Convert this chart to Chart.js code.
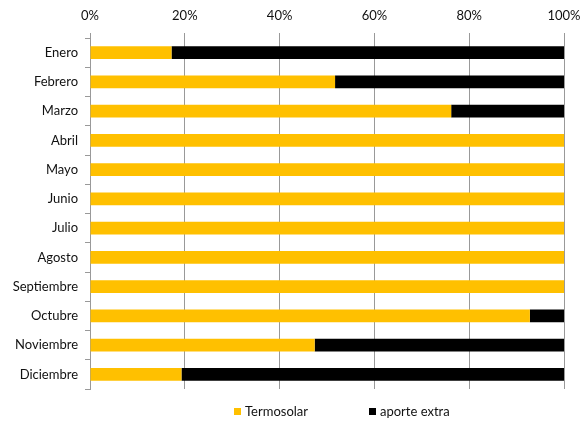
<!DOCTYPE html>
<html>
<head>
<meta charset="utf-8">
<script src="https://cdn.jsdelivr.net/npm/chart.js@4"></script>
<style>
  html, body { margin: 0; padding: 0; background: #fff; }
  #wrap { width: 587px; height: 423px; }
</style>
</head>
<body>
<div id="wrap"><canvas id="grafico"></canvas></div>
<script>
// meses
const meses = ['Enero', 'Febrero', 'Marzo', 'Abril', 'Mayo', 'Junio', 'Julio',
  'Agosto', 'Septiembre', 'Octubre', 'Noviembre', 'Diciembre'];

// % cubierto por la instalación termosolar
const termosolar = [17.2, 51.7, 76.2, 100, 100, 100, 100, 100, 100, 92.8, 47.4, 19.3];
// % de aporte extra
const aporteExtra = [82.8, 48.3, 23.8, 0, 0, 0, 0, 0, 0, 7.2, 52.6, 80.7];

const ticksX = [0, 20, 40, 60, 80, 100];

const fuente = 'Lato, "Open Sans", sans-serif';
const gris = '#999999';

// leyenda dibujada a mano (separación ancha como en Excel)
const leyenda = {
  id: 'leyenda',
  afterDraw(chart) {
    const ctx = chart.ctx;
    const pos = [234, 369];
    const y = 412;
    ctx.save();
    ctx.font = '13px ' + fuente;
    ctx.textBaseline = 'middle';
    ctx.textAlign = 'left';
    chart.data.datasets.forEach((ds, i) => {
      ctx.fillStyle = ds.backgroundColor;
      ctx.fillRect(pos[i], y - 4, 7, 7);
      ctx.fillStyle = '#111';
      ctx.fillText(ds.label, pos[i] + 11, y);
    });
    ctx.restore();
  }
};

new Chart(document.getElementById('grafico'), {
  type: 'bar',
  data: {
    labels: meses,
    datasets: [
      { label: 'Termosolar', data: termosolar, backgroundColor: '#FFC000' },
      { label: 'aporte extra', data: aporteExtra, backgroundColor: '#000000' }
    ]
  },
  options: {
    indexAxis: 'y',
    responsive: true,
    maintainAspectRatio: false,
    animation: false,
    layout: { padding: { top: 0, right: 23, bottom: 34, left: 0 } },
    datasets: { bar: { categoryPercentage: 1, barPercentage: 0.44 } },
    plugins: {
      legend: { display: false },
      tooltip: { enabled: false }
    },
    scales: {
      x: {
        position: 'top',
        stacked: true,
        min: 0,
        max: 100,
        afterBuildTicks: (scale) => { scale.ticks = ticksX.map(v => ({ value: v })); },
        afterFit: (scale) => {
          scale.height = 38;
          scale.paddingLeft = 0;
          scale.paddingRight = 0;
        },
        border: { display: false },
        grid: { color: gris, tickLength: 5 },
        ticks: {
          padding: 9,
          color: '#111',
          font: { family: fuente, size: 13 },
          callback: (v) => v + '%'
        }
      },
      y: {
        stacked: true,
        afterFit: (scale) => { scale.width = 90; },
        border: { color: gris },
        grid: { color: gris, offset: true, drawOnChartArea: false, tickLength: 5 },
        ticks: {
          padding: 7,
          color: '#111',
          font: { family: fuente, size: 13 }
        }
      }
    }
  },
  plugins: [leyenda]
});
</script>
</body>
</html>
